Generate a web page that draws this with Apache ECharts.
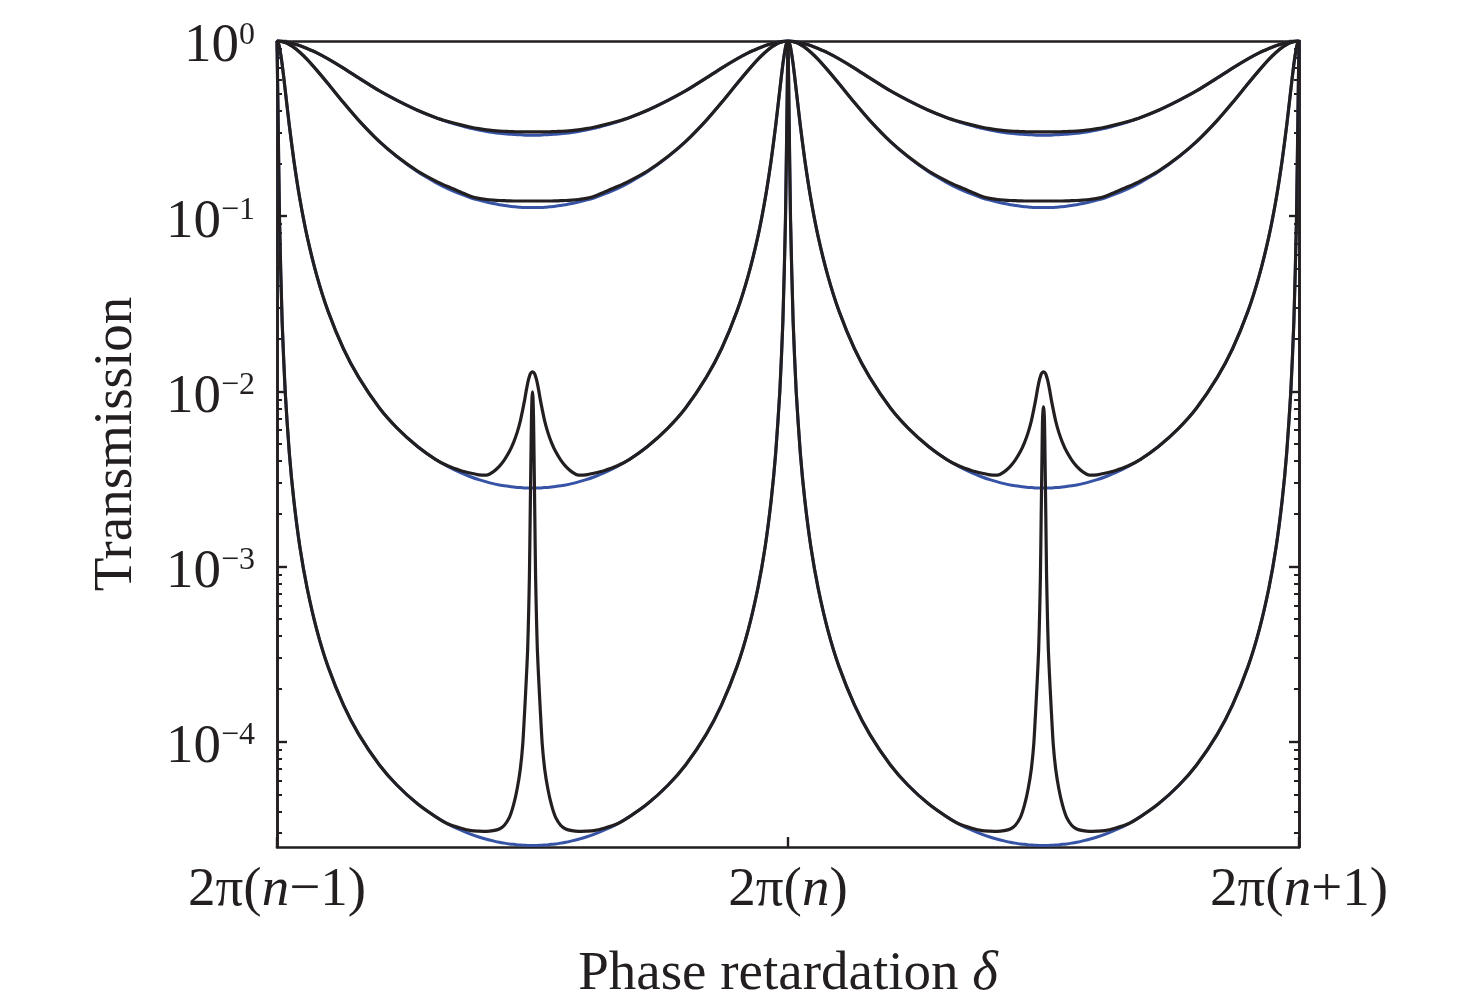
<!DOCTYPE html>
<html>
<head>
<meta charset="utf-8">
<title>Transmission vs phase retardation</title>
<script src="https://cdn.jsdelivr.net/npm/echarts@6.0.0/dist/echarts.min.js"></script>
<style>
  html, body { margin: 0; padding: 0; background: #fff; }
  #chart { width: 1476px; height: 1006px; }
</style>
</head>
<body>
<div id="chart"></div>
<script>
// offsets inside a period (units of 2π), from a transmission peak to the mid point
const halfGrid = [0, 0.002, 0.005, 0.01, 0.016, 0.024, 0.033, 0.045, 0.059, 0.078,
  0.1, 0.13, 0.16, 0.2, 0.235, 0.275, 0.31,
  0.335, 0.36, 0.38, 0.395, 0.41, 0.423, 0.435, 0.445, 0.455, 0.463, 0.47, 0.476, 0.481,
  0.485, 0.488, 0.4905, 0.4925, 0.494, 0.4955, 0.497, 0.498, 0.499, 0.5]

// transmission read off the plot on the first half of a period
// (each period is symmetric about its mid point)
const blue1 = [1, 1, 0.999, 0.996, 0.99, 0.98, 0.965, 0.94, 0.905, 0.855,
  0.79, 0.70, 0.615, 0.52, 0.458, 0.402, 0.365,
  0.345, 0.329, 0.317, 0.310, 0.304, 0.300, 0.297, 0.295, 0.2935, 0.2925, 0.2917, 0.2912, 0.2908,
  0.29, 0.29, 0.29, 0.29, 0.29, 0.29, 0.29, 0.29, 0.29, 0.29]
const black1 = [1, 1, 0.999, 0.996, 0.99, 0.98, 0.965, 0.94, 0.905, 0.855,
  0.79, 0.70, 0.615, 0.52, 0.458, 0.402, 0.366,
  0.347, 0.332, 0.322, 0.316, 0.311, 0.308, 0.306, 0.305, 0.304, 0.3035, 0.303, 0.303, 0.303,
  0.303, 0.303, 0.303, 0.303, 0.303, 0.303, 0.303, 0.303, 0.303, 0.303]
const blue2 = [1, 1, 0.998, 0.992, 0.98, 0.955, 0.92, 0.86, 0.785, 0.68,
  0.57, 0.445, 0.352, 0.267, 0.218, 0.179, 0.156,
  0.1432, 0.1335, 0.127, 0.1235, 0.1203, 0.118, 0.1162, 0.115, 0.114, 0.1133, 0.1128, 0.1123, 0.112,
  0.112, 0.112, 0.112, 0.112, 0.112, 0.112, 0.112, 0.112, 0.112, 0.112]
const black2 = [1, 1, 0.998, 0.992, 0.98, 0.955, 0.92, 0.86, 0.785, 0.68,
  0.57, 0.445, 0.352, 0.267, 0.219, 0.181, 0.159,
  0.147, 0.137, 0.1295, 0.1262, 0.1245, 0.1235, 0.1228, 0.1225, 0.1222, 0.122, 0.122, 0.122, 0.122,
  0.122, 0.122, 0.122, 0.122, 0.122, 0.122, 0.122, 0.122, 0.122, 0.122]
const blue3 = [1, 0.986, 0.919, 0.74, 0.527, 0.331, 0.208, 0.124, 0.0764, 0.0456,
  0.0286, 0.0175, 0.012, 0.00806, 0.00617, 0.00484, 0.00409,
  0.00371, 0.00342, 0.00324, 0.003128, 0.003037, 0.00297, 0.00292, 0.00289, 0.002858, 0.002839, 0.002826, 0.002819, 0.00281,
  0.0028, 0.0028, 0.0028, 0.0028, 0.0028, 0.0028, 0.0028, 0.0028, 0.0028, 0.0028]
const black3 = [1, 0.986, 0.919, 0.74, 0.527, 0.331, 0.208, 0.124, 0.0764, 0.0456,
  0.0286, 0.0175, 0.012, 0.00806, 0.00617, 0.00484, 0.00409,
  0.00374, 0.00352, 0.003402, 0.003333, 0.00332, 0.003467, 0.003726, 0.004059, 0.004539, 0.005109, 0.005825, 0.006733, 0.007882,
  0.009049, 0.010186, 0.011093, 0.011768, 0.012162, 0.01252, 0.012735, 0.01282, 0.012888, 0.012909]
const blue4 = [1, 0.3925, 0.0937, 0.0252, 0.01, 0.00448, 0.00238, 0.00128, 7.51e-4, 4.33e-4,
  2.67e-4, 1.62e-4, 1.1e-4, 7.38e-5, 5.63e-5, 4.41e-5, 3.73e-5,
  3.38e-5, 3.12e-5, 2.95e-5, 2.85e-5, 2.77e-5, 2.71e-5, 2.66e-5, 2.63e-5, 2.6e-5, 2.59e-5, 2.57e-5, 2.565e-5, 2.56e-5,
  2.557e-5, 2.555e-5, 2.553e-5, 2.552e-5, 2.552e-5, 2.551e-5, 2.551e-5, 2.551e-5, 2.551e-5, 2.551e-5]
const black4 = [1, 0.3925, 0.0937, 0.0252, 0.01, 0.00448, 0.00238, 0.00128, 7.51e-4, 4.33e-4,
  2.67e-4, 1.62e-4, 1.1e-4, 7.38e-5, 5.63e-5, 4.41e-5, 3.73e-5,
  3.38e-5, 3.2e-5, 3.1e-5, 3.08e-5, 3.07e-5, 3.1e-5, 3.17e-5, 3.33e-5, 3.7e-5, 4.36e-5, 5.38e-5, 6.9e-5, 9.71e-5,
  1.56e-4, 2.31e-4, 3.34e-4, 5.51e-4, 8.96e-4, 1.97e-3, 4.34e-3, 7.05e-3, 9.17e-3, 9.92e-3]
// second period of the lowest black curve: its narrow peak tops out lower
const black4b = [1, 0.3925, 0.0937, 0.0252, 0.01, 0.00448, 0.00238, 0.00128, 7.51e-4, 4.33e-4,
  2.67e-4, 1.62e-4, 1.1e-4, 7.38e-5, 5.63e-5, 4.41e-5, 3.73e-5,
  3.38e-5, 3.2e-5, 3.1e-5, 3.08e-5, 3.07e-5, 3.1e-5, 3.17e-5, 3.33e-5, 3.7e-5, 4.36e-5, 5.38e-5, 6.9e-5, 9.71e-5,
  1.56e-4, 2.31e-4, 3.34e-4, 5.51e-4, 8.96e-4, 1.97e-3, 4.17e-3, 6.69e-3, 7.73e-3, 8.15e-3]

const xLabels = ['{r|2π(}{i|n}{r|−1)}', '{r|2π(}{i|n}{r|)}', '{r|2π(}{i|n}{r|+1)}']
const majorTicks = [1e-4, 1e-3, 1e-2, 1e-1, 1]
const minorMantissa = [2, 3, 4, 5, 6, 7, 8, 9]
const decades = [1e-5, 1e-4, 1e-3, 1e-2, 1e-1]
const yMin = 2.5e-5
const yMax = 1

const ink = '#231f20'
const blue = '#3653a5'
const font = '"Liberation Serif", "Times New Roman", serif'

const minorTicks = []
decades.forEach(d => minorMantissa.forEach(m => {
  if (m * d >= yMin) minorTicks.push(m * d)
}))

// one period: peak -> mid point -> next peak
function periodPoints(half, p) {
  const pts = halfGrid.map((u, i) => [p + u, half[i]])
  for (let i = halfGrid.length - 2; i >= 0; i--) {
    pts.push([p + 1 - halfGrid[i], half[i]])
  }
  return pts
}
function curve(first, second) {
  const pts = periodPoints(first, 0)
  // drop the shared peak at 2π(n) so it is not listed twice
  return pts.concat(periodPoints(second || first, 1).slice(1))
}

function lineSeries(name, data, color) {
  return {
    name,
    type: 'line',
    data,
    showSymbol: false,
    smooth: 0.2,
    lineStyle: { color, width: color === blue ? 3 : 3.2, join: 'round' },
    z: color === blue ? 2 : 3,
  }
}

function yAxisDef(position, ticks, len, withLabel) {
  const axis = {
    type: 'log',
    logBase: 10,
    min: yMin,
    max: yMax,
    position,
    axisLine: { show: true, onZero: false, lineStyle: { color: ink, width: 2.6 } },
    axisTick: {
      show: true, inside: true, length: len, customValues: ticks,
      lineStyle: { color: ink, width: len > 6 ? 2.4 : 2 }
    },
    axisLabel: { show: false },
    splitLine: { show: false },
    minorTick: { show: false },
  }
  if (withLabel) {
    axis.axisLabel = {
      show: true,
      customValues: majorTicks,
      margin: 22,
      padding: [12, 0, 0, 0],
      formatter: v => {
        const e = Math.round(Math.log10(v))
        if (Math.abs(Math.log10(v) - e) > 1e-6) return ''
        return '{b|10}{s|' + (e < 0 ? '−' + (-e) : e) + '}'
      },
      rich: {
        b: { fontFamily: font, fontSize: 55, color: ink, lineHeight: 55, verticalAlign: 'bottom' },
        s: { fontFamily: font, fontSize: 32, color: ink, lineHeight: 32, verticalAlign: 'top' },
      }
    }
    axis.name = 'Transmission'
    axis.nameLocation = 'middle'
    axis.nameGap = 133
    axis.nameTextStyle = { fontFamily: font, fontSize: 55, color: ink }
  }
  return axis
}

function xAxisDef(position, withLabel) {
  const axis = {
    type: 'value',
    min: 0,
    max: 2,
    interval: 1,
    position,
    axisLine: { show: true, onZero: false, lineStyle: { color: ink, width: 2.6 } },
    axisTick: { show: true, inside: true, length: 10, lineStyle: { color: ink, width: 2.4 } },
    axisLabel: { show: false },
    splitLine: { show: false },
  }
  if (withLabel) {
    axis.axisLabel = {
      show: true,
      margin: 16,
      formatter: v => xLabels[Math.round(v)],
      rich: {
        r: { fontFamily: font, fontSize: 55, color: ink },
        i: { fontFamily: font, fontSize: 55, color: ink, fontStyle: 'italic' },
      }
    }
    axis.name = '{r|Phase retardation }{i|δ}'
    axis.nameLocation = 'middle'
    axis.nameGap = 100
    axis.nameTextStyle = {
      rich: {
        r: { fontFamily: font, fontSize: 55, color: ink },
        i: { fontFamily: font, fontSize: 55, color: ink, fontStyle: 'italic' },
      }
    }
  }
  return axis
}

const chart = echarts.init(document.getElementById('chart'), null, { renderer: 'canvas' })
chart.setOption({
  backgroundColor: '#ffffff',
  animation: false,
  grid: { left: 277, right: 177, top: 41, bottom: 159, outerBoundsMode: 'none' },
  xAxis: [xAxisDef('bottom', true), xAxisDef('top', false)],
  yAxis: [
    yAxisDef('left', majorTicks, 10, true),
    yAxisDef('left', minorTicks, 5, false),
    yAxisDef('right', majorTicks, 10, false),
    yAxisDef('right', minorTicks, 5, false),
  ],
  series: [
    lineSeries('blue1', curve(blue1), blue),
    lineSeries('blue2', curve(blue2), blue),
    lineSeries('blue3', curve(blue3), blue),
    lineSeries('blue4', curve(blue4), blue),
    lineSeries('black1', curve(black1), ink),
    lineSeries('black2', curve(black2), ink),
    lineSeries('black3', curve(black3), ink),
    lineSeries('black4', curve(black4, black4b), ink),
  ]
})
</script>
</body>
</html>
